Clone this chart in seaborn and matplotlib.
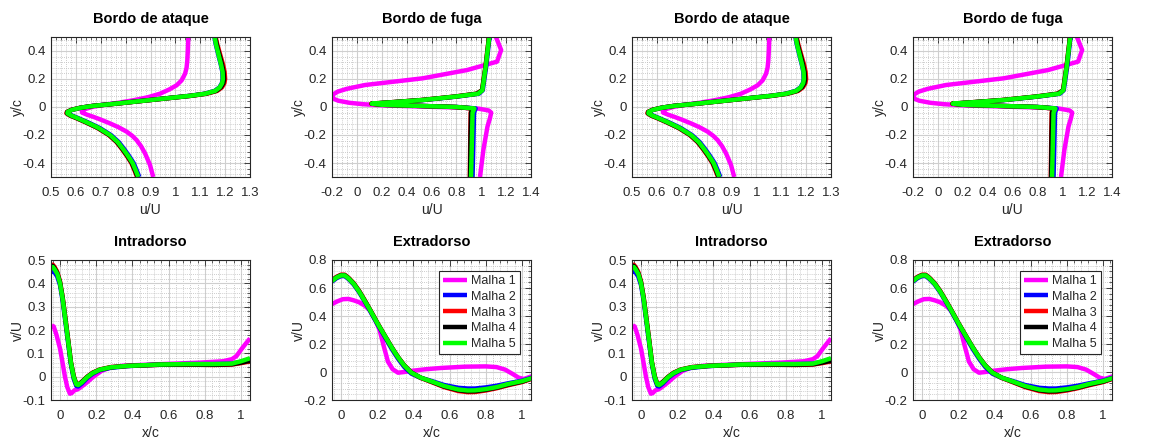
import matplotlib
matplotlib.use("Agg")
import numpy as np
import pandas as pd
import matplotlib.pyplot as plt
import seaborn as sns
from matplotlib.ticker import MultipleLocator, AutoMinorLocator, FuncFormatter

# ---------------- data ----------------
meshes = ["Malha 1", "Malha 2", "Malha 3", "Malha 4", "Malha 5"]
colors = ["#ff00ff", "#0000ff", "#ff0000", "#000000", "#00ff00"]

# Bordo de ataque (u/U vs y/c)
ata_y1 = [0.5, 0.4, 0.333, 0.28, 0.238, 0.19, 0.155, 0.125, 0.095, 0.07, 0.048, 0.03, 0.015, 0.0, -0.015,
          -0.03, -0.04, -0.055, -0.07, -0.09, -0.117, -0.145, -0.176, -0.205, -0.236, -0.28, -0.331, -0.414, -0.5]
ata_u1 = [1.052, 1.050, 1.048, 1.045, 1.039, 1.025, 1.005, 0.975, 0.938, 0.89, 0.831, 0.77, 0.71, 0.665, 0.637,
          0.624, 0.625, 0.645, 0.67, 0.70, 0.737, 0.772, 0.804, 0.826, 0.844, 0.862, 0.878, 0.898, 0.911]
ata_y = [0.5, 0.45, 0.4, 0.35, 0.3, 0.25, 0.2, 0.17, 0.14, 0.115, 0.095, 0.08, 0.065, 0.05, 0.035, 0.02,
         0.008, -0.005, -0.02, -0.035, -0.045, -0.06, -0.08, -0.11, -0.15, -0.2, -0.25, -0.3, -0.35, -0.4, -0.45, -0.5]
ata_u2 = [1.157, 1.162, 1.169, 1.176, 1.183, 1.189, 1.190, 1.187, 1.177, 1.158, 1.118, 1.058, 0.978, 0.898, 0.818, 0.738,
          0.668, 0.620, 0.585, 0.568, 0.568, 0.583, 0.610, 0.649, 0.696, 0.741, 0.772, 0.794, 0.814, 0.832, 0.844, 0.855]
ata_u3 = [1.162, 1.168, 1.176, 1.184, 1.192, 1.198, 1.200, 1.197, 1.187, 1.168, 1.126, 1.064, 0.982, 0.902, 0.822, 0.742,
          0.670, 0.619, 0.582, 0.564, 0.562, 0.575, 0.602, 0.640, 0.687, 0.732, 0.763, 0.785, 0.805, 0.823, 0.835, 0.846]
ata_u4 = [1.160, 1.166, 1.173, 1.181, 1.188, 1.194, 1.196, 1.193, 1.183, 1.164, 1.123, 1.062, 0.980, 0.900, 0.820, 0.740,
          0.669, 0.619, 0.583, 0.565, 0.564, 0.577, 0.604, 0.642, 0.689, 0.734, 0.765, 0.787, 0.807, 0.825, 0.837, 0.848]
ata_u5 = [1.158, 1.163, 1.170, 1.177, 1.184, 1.190, 1.191, 1.188, 1.178, 1.160, 1.120, 1.060, 0.980, 0.900, 0.820, 0.740,
          0.670, 0.620, 0.585, 0.567, 0.566, 0.580, 0.607, 0.645, 0.692, 0.737, 0.768, 0.790, 0.810, 0.828, 0.840, 0.851]

# Bordo de fuga (u/U vs y/c)
fug_y1 = [0.5, 0.407, 0.324, 0.264, 0.205, 0.157, 0.13, 0.11, 0.09, 0.074, 0.06, 0.045, 0.03, 0.02, 0.012,
          0.005, 0.0, -0.005, -0.012, -0.025, -0.04, -0.08, -0.14, -0.307, -0.5]
fug_u1 = [1.118, 1.16, 1.127, 0.886, 0.53, 0.065, -0.08, -0.153, -0.19, -0.2, -0.19, -0.15, -0.06, 0.05, 0.2,
          0.45, 0.65, 0.85, 0.98, 1.06, 1.08, 1.07, 1.05, 1.017, 0.99]
fug_y = [0.5, 0.29, 0.12, 0.095, 0.075, 0.05, 0.035, 0.024, 0.016, 0.008, 0.0, -0.01, -0.04, -0.2, -0.5]
fug_u2 = [1.066, 1.040, 1.012, 0.982, 0.81, 0.54, 0.31, 0.13, 0.21, 0.51, 0.81, 0.955, 0.942, 0.938, 0.930]
fug_u3 = [1.062, 1.034, 1.006, 0.962, 0.79, 0.52, 0.29, 0.115, 0.19, 0.49, 0.79, 0.925, 0.915, 0.912, 0.908]
fug_u4 = [1.063, 1.035, 1.007, 0.965, 0.795, 0.525, 0.295, 0.118, 0.195, 0.495, 0.795, 0.930, 0.918, 0.914, 0.910]
fug_u5 = [1.064, 1.036, 1.009, 0.975, 0.80, 0.53, 0.30, 0.120, 0.20, 0.50, 0.80, 0.945, 0.930, 0.926, 0.918]

# Intradorso (v/U vs x/c)
int_x1 = [-0.046, -0.035, -0.02, 0.0, 0.015, 0.027, 0.04, 0.055, 0.065, 0.08, 0.095, 0.11, 0.14, 0.185, 0.23,
          0.28, 0.35, 0.5, 0.77, 0.9, 0.95, 0.975, 1.0, 1.025, 1.05]
int_v1 = [0.22, 0.215, 0.18, 0.12, 0.055, 0.0, -0.045, -0.073, -0.07, -0.058, -0.055, -0.048, -0.03, 0.0, 0.025,
          0.04, 0.047, 0.052, 0.06, 0.066, 0.075, 0.088, 0.115, 0.14, 0.164]
int_x = [-0.05, -0.04, -0.03, -0.015, 0.0, 0.015, 0.03, 0.045, 0.06, 0.075, 0.09, 0.1, 0.12, 0.15, 0.18, 0.22,
         0.28, 0.37, 0.55, 0.7, 0.85, 0.95, 1.0, 1.05]
int_v2 = [0.445, 0.455, 0.447, 0.428, 0.392, 0.322, 0.232, 0.142, 0.052, -0.008, -0.040, -0.042, -0.030, -0.006, 0.012, 0.028,
          0.038, 0.045, 0.052, 0.054, 0.054, 0.056, 0.064, 0.075]
int_v3 = [0.470, 0.480, 0.470, 0.448, 0.408, 0.338, 0.248, 0.158, 0.064, 0.004, -0.031, -0.034, -0.022, 0.000, 0.017, 0.031,
          0.041, 0.046, 0.051, 0.052, 0.050, 0.052, 0.058, 0.065]
int_v4 = [0.465, 0.475, 0.465, 0.443, 0.404, 0.334, 0.244, 0.154, 0.061, 0.002, -0.033, -0.035, -0.023, -0.001, 0.016, 0.030,
          0.040, 0.046, 0.051, 0.052, 0.051, 0.053, 0.060, 0.068]
int_v5 = [0.462, 0.470, 0.460, 0.440, 0.400, 0.330, 0.240, 0.150, 0.060, 0.000, -0.033, -0.036, -0.025, -0.002, 0.015, 0.030,
          0.040, 0.046, 0.052, 0.054, 0.054, 0.056, 0.066, 0.079]

# Extradorso (v/U vs x/c)
ext_x1 = [-0.05, -0.02, 0.01, 0.04, 0.07, 0.1, 0.13, 0.16, 0.19, 0.213, 0.235, 0.259, 0.285, 0.315, 0.35,
          0.389, 0.47, 0.556, 0.685, 0.8, 0.86, 0.907, 0.95, 0.981, 1.01, 1.056]
ext_v1 = [0.485, 0.505, 0.52, 0.522, 0.512, 0.498, 0.475, 0.44, 0.37, 0.30, 0.19, 0.075, 0.02, -0.005, 0.0,
          0.008, 0.02, 0.029, 0.038, 0.04, 0.035, 0.017, -0.015, -0.04, -0.05, -0.03]
ext_x = [-0.05, -0.025, 0.0, 0.02, 0.04, 0.07, 0.1, 0.13, 0.166, 0.2, 0.241, 0.28, 0.315, 0.35, 0.389, 0.44,
         0.5, 0.57, 0.648, 0.7, 0.741, 0.8, 0.86, 0.926, 1.0, 1.056]
ext_v2 = [0.645, 0.670, 0.685, 0.685, 0.665, 0.625, 0.570, 0.505, 0.423, 0.343, 0.252, 0.165, 0.095, 0.035, -0.012, -0.042,
          -0.064, -0.093, -0.113, -0.118, -0.118, -0.110, -0.098, -0.080, -0.062, -0.040]
ext_v3 = [0.655, 0.680, 0.695, 0.695, 0.675, 0.635, 0.580, 0.515, 0.433, 0.353, 0.262, 0.177, 0.107, 0.047, -0.004, -0.042,
          -0.072, -0.108, -0.136, -0.144, -0.143, -0.132, -0.116, -0.094, -0.072, -0.048]
ext_v4 = [0.652, 0.677, 0.692, 0.692, 0.672, 0.632, 0.577, 0.512, 0.431, 0.351, 0.260, 0.176, 0.106, 0.046, -0.004, -0.040,
          -0.069, -0.104, -0.130, -0.138, -0.137, -0.127, -0.112, -0.090, -0.069, -0.045]
ext_v5 = [0.650, 0.675, 0.690, 0.690, 0.670, 0.630, 0.575, 0.510, 0.430, 0.350, 0.260, 0.175, 0.105, 0.045, -0.005, -0.040,
          -0.067, -0.100, -0.125, -0.132, -0.131, -0.122, -0.108, -0.085, -0.065, -0.043]

# ---------------- style ----------------
sns.set_theme(style="white")
plt.rcParams['font.family'] = ['Liberation Sans', 'DejaVu Sans']
plt.rcParams['axes.unicode_minus'] = False
TXT = "#262626"


def build(pairs):
    frames = []
    for name, (xs, ys) in zip(meshes, pairs):
        frames.append(pd.DataFrame({"x": xs, "y": ys, "mesh": name}))
    return pd.concat(frames, ignore_index=True)


panels = [
    dict(title="Bordo de ataque", xlabel="u/U", ylabel="y/c",
         df=build([(ata_u1, ata_y1), (ata_u2, ata_y), (ata_u3, ata_y), (ata_u4, ata_y), (ata_u5, ata_y)]),
         xlim=(0.5, 1.3), ylim=(-0.5, 0.5), xstep=0.1, ystep=0.2, pos=(51, 37)),
    dict(title="Bordo de fuga", xlabel="u/U", ylabel="y/c",
         df=build([(fug_u1, fug_y1), (fug_u2, fug_y), (fug_u3, fug_y), (fug_u4, fug_y), (fug_u5, fug_y)]),
         xlim=(-0.2, 1.4), ylim=(-0.5, 0.5), xstep=0.2, ystep=0.2, pos=(332, 37)),
    dict(title="Intradorso", xlabel="x/c", ylabel="v/U",
         df=build([(int_x1, int_v1), (int_x, int_v2), (int_x, int_v3), (int_x, int_v4), (int_x, int_v5)]),
         xlim=(-0.05, 1.05), ylim=(-0.1, 0.5), xstep=0.2, ystep=0.1, pos=(51, 260)),
    dict(title="Extradorso", xlabel="x/c", ylabel="v/U",
         df=build([(ext_x1, ext_v1), (ext_x, ext_v2), (ext_x, ext_v3), (ext_x, ext_v4), (ext_x, ext_v5)]),
         xlim=(-0.05, 1.05), ylim=(-0.2, 0.8), xstep=0.2, ystep=0.2, pos=(332, 260), legend=True),
]

W, H = 1164, 440
fig = plt.figure(figsize=(W / 100, H / 100), dpi=100)
AW, AH = 199, 140
fmt = FuncFormatter(lambda v, p: f"{round(v, 6) + 0.0:g}")

for off in (0, 581):
    for p in panels:
        x0, y0 = p["pos"]
        ax = fig.add_axes([(x0 + off) / W, (H - y0 - AH) / H, AW / W, AH / H])
        sns.lineplot(data=p["df"], x="x", y="y", hue="mesh", palette=colors,
                     hue_order=meshes, sort=False, estimator=None,
                     linewidth=3.2, legend=False, ax=ax)
        for ln in ax.lines:
            ln.set_solid_joinstyle("round")
            ln.set_solid_capstyle("butt")
        ax.set_xlim(*p["xlim"])
        ax.set_ylim(*p["ylim"])
        ax.xaxis.set_major_locator(MultipleLocator(p["xstep"]))
        ax.yaxis.set_major_locator(MultipleLocator(p["ystep"]))
        ax.xaxis.set_minor_locator(AutoMinorLocator(5))
        ax.yaxis.set_minor_locator(AutoMinorLocator(5))
        ax.xaxis.set_major_formatter(fmt)
        ax.yaxis.set_major_formatter(fmt)
        ax.set_axisbelow(True)
        ax.grid(True, which="major", color="#cfcfcf", lw=0.8, ls="-")
        ax.grid(True, which="minor", color="#bdbdbd", lw=0.6, ls=(0, (1, 1.5)))
        ax.tick_params(which="both", direction="in", top=True, right=True,
                       colors=TXT, labelcolor=TXT)
        ax.tick_params(which="major", length=4, width=0.6, labelsize=9.5)
        ax.tick_params(axis="x", which="major", pad=7)
        ax.tick_params(axis="y", which="major", pad=4)
        ax.tick_params(which="minor", length=2, width=0.5)
        for s in ax.spines.values():
            s.set_color(TXT)
            s.set_linewidth(0.8)
        ax.set_title(p["title"], fontsize=10.5, fontweight="bold", color="black", pad=10)
        ax.set_xlabel(p["xlabel"], fontsize=10, color=TXT, labelpad=3)
        ax.set_ylabel(p["ylabel"], fontsize=10, color=TXT, labelpad=-2)
        if p.get("legend"):
            leg = ax.legend(ax.lines[:5], meshes, loc="upper right", fontsize=9,
                            frameon=True, fancybox=False, framealpha=1,
                            edgecolor=TXT, handlelength=1.9, handletextpad=0.35,
                            labelspacing=0.3, borderpad=0.3, borderaxespad=0.9)
            leg.get_frame().set_linewidth(0.8)
            for t in leg.get_texts():
                t.set_color(TXT)

fig.savefig("out.png", dpi=100)
